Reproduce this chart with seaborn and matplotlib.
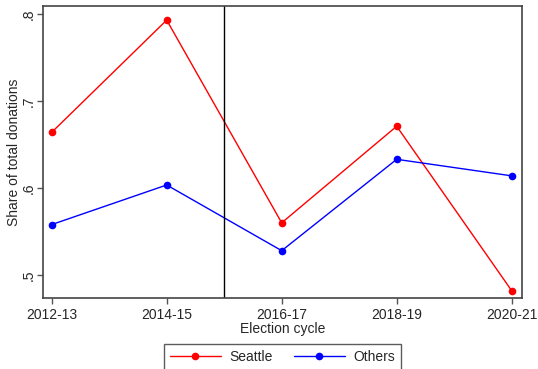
import matplotlib
matplotlib.use("Agg")
import matplotlib.pyplot as plt
from matplotlib.lines import Line2D
import seaborn as sns
import pandas as pd

cycles = ["2012-13", "2014-15", "2016-17", "2018-19", "2020-21"]
seattle = [0.664, 0.793, 0.560, 0.671, 0.482]
others = [0.558, 0.6035, 0.528, 0.633, 0.614]
series_names = ["Seattle", "Others"]
y_ticks = [0.5, 0.6, 0.7, 0.8]
y_tick_labels = [".5", ".6", ".7", ".8"]

sns.set_style("white")
plt.rcParams["font.family"] = ["Liberation Sans", "DejaVu Sans"]

df = pd.DataFrame({
    "idx": list(range(len(cycles))) * 2,
    "share": seattle + others,
    "group": [series_names[0]] * len(cycles) + [series_names[1]] * len(cycles),
})

fig = plt.figure(figsize=(5.38, 3.69), dpi=100)
ax = fig.add_axes([0.0805, 0.1924, 0.8892, 0.7913])

sns.lineplot(data=df, x="idx", y="share", hue="group", palette=["#ff0000", "#0000ff"],
             marker="o", markersize=5.5, markeredgewidth=0, linewidth=1.0, ax=ax, legend=False)

ax.axvline(1.5, color="black", linewidth=1.0)

ax.set_xlim(-0.073, 4.087)
ax.set_ylim(0.4736, 0.8092)
ax.set_xticks(range(len(cycles)))
ax.set_xticklabels(cycles, fontsize=10)
ax.set_yticks(y_ticks)
ax.set_yticklabels(y_tick_labels, fontsize=10, rotation=90, va="center")
ax.set_xlabel("Election cycle", fontsize=10, labelpad=0)
ax.set_ylabel("Share of total donations", fontsize=10)
ax.yaxis.set_label_coords(-0.0456, 0.5)
ax.tick_params(axis="both", direction="out", length=4, width=1, color="#555555",
               bottom=True, left=True)
ax.tick_params(axis="y", pad=1.5)
ax.tick_params(axis="x", pad=3)
for s in ax.spines.values():
    s.set_color("#444444")
    s.set_linewidth(1.2)

handles = [Line2D([], [], color="#ff0000", marker="o", markersize=5.5, markeredgewidth=0, linewidth=1.0),
           Line2D([], [], color="#0000ff", marker="o", markersize=5.5, markeredgewidth=0, linewidth=1.0)]
leg = fig.legend(handles, series_names, loc="upper center", bbox_to_anchor=(282.5 / 538, 1 - 344 / 369),
                 ncol=2, fontsize=10, frameon=True, fancybox=False, handlelength=3.7,
                 columnspacing=1.5, borderpad=0.45, handletextpad=0.6, borderaxespad=0)
leg.get_frame().set_edgecolor("#333333")
leg.get_frame().set_linewidth(1.0)

fig.savefig("out.png", dpi=100)
